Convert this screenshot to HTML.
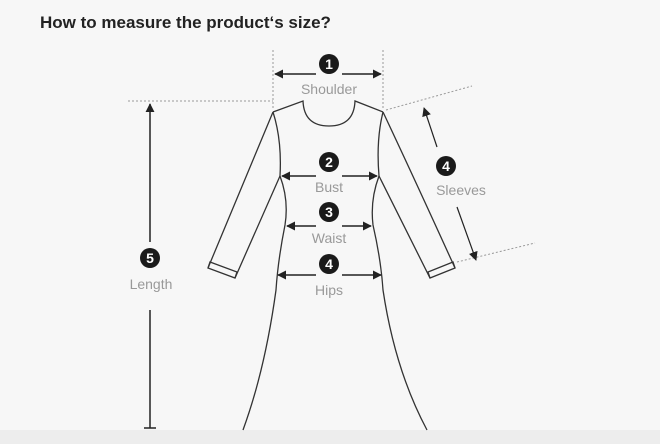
<!DOCTYPE html><html><head><style>body{margin:0;background:#f7f7f7}svg{display:block}</style></head><body>
<svg width="660" height="444" viewBox="0 0 660 444" xmlns="http://www.w3.org/2000/svg" font-family="Liberation Sans, sans-serif">
<defs><marker id="a" viewBox="0 0 10 10" refX="9" refY="5" markerWidth="9" markerHeight="9" orient="auto-start-reverse" markerUnits="userSpaceOnUse"><path d="M0,0L10,5L0,10z" fill="#222"/></marker></defs>
<rect x="0" y="0" width="660" height="444" fill="#f7f7f7"/>
<rect x="0" y="430" width="660" height="14" fill="#ededed"/>
<text x="40" y="28" font-size="17" font-weight="bold" fill="#222">How to measure the product‘s size?</text>
<g stroke="#999" stroke-width="1" stroke-dasharray="2,2" fill="none">
<line x1="273" y1="50" x2="273" y2="110"/><line x1="383" y1="50" x2="383" y2="110"/>
<line x1="128" y1="101" x2="273" y2="101"/>
<line x1="386" y1="110" x2="472" y2="86"/><line x1="457" y1="262" x2="535" y2="243"/>
</g>
<g stroke="#333" stroke-width="1.3" fill="none">
<path d="M273,112 L303,101 Q304,126 329,126 Q354,126 355,101 L383,112"/>
<path d="M273,112 Q245,180 208,268 L235,278 L280,176"/>
<path d="M383,112 Q415,180 455,268 L430,278 L379,176"/>
<path d="M208,268 L210,262 L237,272 L235,278"/>
<path d="M455,268 L453,262 L428,272 L430,278"/>
<path d="M273,112 Q282,140 280,176 Q289,200 285,225 Q278,260 276,290 Q265,370 243,430"/>
<path d="M383,112 Q376,140 379,176 Q370,200 373,225 Q381,260 383,290 Q395,370 427,430"/>
</g>
<g stroke="#222" stroke-width="1.5" fill="none">
<line x1="275" y1="74" x2="316" y2="74" marker-start="url(#a)"/><line x1="342" y1="74" x2="381" y2="74" marker-end="url(#a)"/>
<line x1="282" y1="176" x2="316" y2="176" marker-start="url(#a)"/><line x1="342" y1="176" x2="377" y2="176" marker-end="url(#a)"/>
<line x1="287" y1="226" x2="316" y2="226" marker-start="url(#a)"/><line x1="342" y1="226" x2="371" y2="226" marker-end="url(#a)"/>
<line x1="278" y1="275" x2="316" y2="275" marker-start="url(#a)"/><line x1="342" y1="275" x2="381" y2="275" marker-end="url(#a)"/>
<line x1="150" y1="104" x2="150" y2="242" marker-start="url(#a)"/><line x1="150" y1="310" x2="150" y2="428"/><line x1="144" y1="428" x2="156" y2="428"/>
</g>
<g stroke="#222" stroke-width="1.2" fill="none">
<line x1="424" y1="108" x2="437" y2="147" marker-start="url(#a)"/><line x1="457" y1="207" x2="476" y2="260" marker-end="url(#a)"/>
</g>
<g fill="#1a1a1a"><circle cx="329" cy="64" r="10"/><circle cx="329" cy="162" r="10"/><circle cx="329" cy="212" r="10"/><circle cx="329" cy="264" r="10"/><circle cx="150" cy="258" r="10"/><circle cx="446" cy="166" r="10"/></g>
<g fill="#fff" font-size="14" font-weight="bold" text-anchor="middle"><text x="329" y="69">1</text><text x="329" y="167">2</text><text x="329" y="217">3</text><text x="329" y="269">4</text><text x="150" y="263">5</text><text x="446" y="171">4</text></g>
<g fill="#999" font-size="14" text-anchor="middle"><text x="329" y="94">Shoulder</text><text x="329" y="192">Bust</text><text x="329" y="243">Waist</text><text x="329" y="295">Hips</text><text x="151" y="289">Length</text><text x="461" y="195">Sleeves</text></g>
</svg></body></html>
